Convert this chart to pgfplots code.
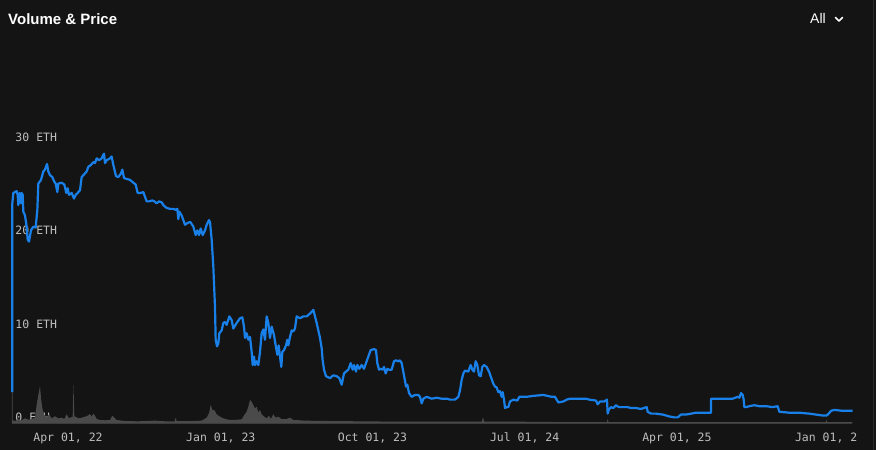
\documentclass[border=0pt]{standalone}
\usepackage{pgfplots}
\pgfplotsset{compat=1.18}
\usepackage{fontspec}
\setmainfont{Liberation Sans}
\newfontfamily\monofont{DejaVu Sans Mono}
\definecolor{bg}{HTML}{141414}
\definecolor{priceblue}{HTML}{1880E8}
\definecolor{volgray}{HTML}{4A4A4A}
\definecolor{basegray}{HTML}{3A3A3A}
\definecolor{ticktext}{HTML}{BEBEBE}
\definecolor{edge}{HTML}{2A2A2A}
\pgfplotsset{
  commonaxis/.style={
    at={(12pt,27pt)}, anchor=south west,
    scale only axis, width=841pt, height=363pt,
    xmin=-10.8, xmax=1503, ymin=0, ymax=38.82,
    clip=false,
  }
}
\begin{document}
\begin{tikzpicture}
\fill[bg] (0pt,0pt) rectangle (876pt,450pt);
\useasboundingbox (0pt,0pt) rectangle (876pt,450pt);
\draw[edge, line width=1pt] (873.5pt,0pt) -- (873.5pt,450pt);
\node[anchor=base west, text=white, font=\bfseries\fontsize{15}{18}\selectfont, inner sep=0] at (8pt,425pt) {Volume \& Price};
\node[anchor=base west, text=white, font=\fontsize{14}{16}\selectfont, inner sep=0] at (810pt,426pt) {All};
\draw[white, line width=1.5pt, line cap=round, line join=round] (835.5pt,432.5pt) -- (839pt,429pt) -- (842.5pt,432.5pt);

% axis 1: tick labels and baseline
\begin{axis}[commonaxis,
  axis line style={draw=none}, major tick style={draw=none},
  xtick={90,365,638,912,1186,1461},
  xticklabels={{Apr 01, 22},{Jan 01, 23},{Oct 01, 23},{Jul 01, 24},{Apr 01, 25},{Jan 01, 2\phantom{6}}},
  ytick={0,10,20,30},
  yticklabels={0 ETH,10 ETH,20 ETH,30 ETH},
  ticklabel style={font=\monofont\fontsize{11.5}{13}\selectfont, text=ticktext},
  yticklabel style={anchor=base west, inner sep=0pt, xshift=3.3pt, yshift=1.3pt},
  xticklabel style={anchor=base, inner sep=0pt, yshift=-18.5pt},
  /pgf/number format/assume math mode=true,
]
\addplot[basegray, line width=2pt] coordinates {(-10.8,0) (1502,0)};
\end{axis}

% axis 2: volume and price
\begin{axis}[commonaxis, hide axis]
\addplot[draw=none, fill=volgray] coordinates {
(-10.8,0) (-10.8,7.8) (-10.0,7.8) (-9.6,0.3) (-5.4,0.2) (0.6,0.4) (6.6,0.3) (12.6,0.5) (18.6,0.35) (24.6,0.43) (30.6,0.57) (33.6,1.93) (36.6,3.0) (39.6,3.96) (41.4,2.64) (43.8,1.57) (47.4,0.86) (51.6,0.67) (55.8,0.93) (60.6,0.5) (66.6,0.72) (72.6,0.5) (78.6,0.57) (83.4,0.43) (87.6,0.93) (91.8,0.5) (96.6,0.64) (98.4,0.64) (99.9,4.06) (101.4,0.7) (103.8,0.67) (108.6,0.5) (114.6,0.57) (120.6,0.67) (125.4,0.78) (129.6,0.96) (132.6,0.67) (135.6,1.0) (138.6,0.78) (141.6,0.43) (147.6,0.32) (156.6,0.29) (165.6,0.32) (169.8,0.78) (173.4,0.57) (177.6,0.32) (192.6,0.21) (216.6,0.18) (246.6,0.25) (264.6,0.18) (282,0.18) (283.8,0.57) (285.6,0.2) (312.6,0.21) (330.6,0.25) (339.6,0.57) (343.8,1.04) (346.8,1.93) (349.8,1.39) (353.4,1.39) (357.6,0.93) (363.6,0.67) (369.6,0.5) (378.6,0.35) (390.6,0.32) (402.6,0.4) (407.4,0.86) (411.6,1.21) (414.6,1.74) (417.6,2.46) (420.6,2.28) (423.6,1.93) (426.6,1.57) (429.6,1.74) (432.6,1.14) (435.6,1.39) (438.6,0.93) (443.4,0.67) (447.6,0.5) (451.8,0.78) (455.4,0.43) (459.6,0.93) (463.8,0.57) (468.6,0.67) (474.6,0.4) (483.6,0.43) (489.6,0.57) (495.6,0.32) (507.6,0.29) (516.6,0.25) (561.6,0.21) (651.6,0.16) (723.6,0.16) (835,0.16) (837,0.64) (839,0.16) (867.6,0.16) (975,0.1) (1060,0.1) (1061.5,0.43) (1063,0.1) (1300,0.1) (1454,0.1) (1455.6,0.32) (1457,0.1) (1502,0.1) (1502,0)
};
\addplot[priceblue, line width=2.2pt, line join=round] coordinates {
(-10.5,3.3) (-10.2,23.5) (-8.4,24.6) (-2.4,24.8) (-0.6,24.4) (0.6,23.3) (3.0,24.6) (5.4,23.5) (6.6,24.6) (8.4,24.4) (9.6,22.6) (12.6,22.2) (15.6,21.0) (17.4,19.6) (19.8,19.4) (23.4,20.6) (27.6,21.0) (31.8,20.9) (34.8,22.8) (36.6,25.6) (41.4,26.0) (45.6,26.9) (48.6,27.1) (52.2,27.7) (54.6,26.9) (57.6,26.5) (61.8,26.3) (65.4,25.8) (67.8,25.6) (70.8,24.7) (72.6,25.6) (78.6,25.7) (83.4,25.5) (87.0,24.6) (89.4,25.1) (91.8,24.4) (96.6,24.6) (100.8,24.0) (103.8,24.4) (107.4,24.6) (111.6,24.9) (114.6,26.3) (120.6,26.7) (123.6,26.9) (126.6,27.4) (131.4,27.6) (135.6,27.9) (138.6,27.8) (141.6,28.3) (145.8,28.1) (150.6,28.3) (154.8,28.8) (156.6,27.8) (159.6,28.1) (165.6,28.3) (168.6,28.5) (171.6,27.6) (176.4,26.4) (180.6,26.3) (185.4,26.7) (187.8,27.1) (190.8,26.2) (195.6,26.1) (201.6,26.0) (207.6,25.7) (211.8,25.5) (215.4,24.6) (220.8,24.6) (225.6,24.7) (228.6,24.2) (231.6,23.7) (235.8,23.7) (241.8,23.8) (245.4,23.7) (249.6,23.5) (253.8,23.7) (258.6,23.6) (261.6,23.3) (267.6,23.0) (273.6,22.9) (279.6,22.9) (283.8,22.8) (286.8,22.9) (288.6,21.8) (290.4,22.6) (294.6,22.2) (300.6,21.2) (305.4,21.4) (310.2,21.5) (315.6,21.0) (319.8,20.1) (322.8,20.6) (325.8,20.1) (328.8,20.8) (332.4,20.1) (336.6,20.6) (339.6,21.2) (343.8,21.7) (345.6,21.5) (348.6,19.6) (351.6,16.7) (354.6,12.4) (355.8,8.9) (358.2,8.2) (360.6,8.5) (362.4,9.6) (366.6,9.9) (369.6,10.7) (372.6,10.8) (375.6,10.5) (380.4,11.4) (384.6,11.0) (387.6,10.1) (393.6,10.7) (399.6,11.2) (403.8,11.3) (406.8,10.3) (408.6,9.1) (411.6,9.6) (414.6,8.9) (417.6,9.2) (420.6,7.6) (422.4,6.2) (424.8,7.1) (426.6,6.2) (429.6,6.6) (432.6,6.2) (435.6,7.6) (438.6,9.6) (441.6,10.0) (444.6,8.9) (447.6,11.4) (450.6,10.7) (453.6,9.1) (456.6,10.3) (460.8,9.4) (463.8,8.3) (466.8,7.3) (469.2,8.3) (471.6,7.1) (474.0,6.0) (475.8,7.6) (478.8,7.8) (482.4,8.3) (484.8,8.9) (486.6,8.3) (489.6,9.2) (492.6,9.9) (495.6,9.8) (498.6,10.1) (501.6,11.4) (507.6,11.2) (513.6,11.4) (519.6,11.4) (525.6,11.7) (531.6,12.1) (534.6,11.4) (537.6,10.7) (540.6,9.9) (543.6,9.1) (546.6,8.0) (548.4,6.7) (550.8,5.7) (554.4,5.0) (561.6,4.8) (567.6,5.1) (573.6,5.0) (578.4,4.8) (582.6,4.1) (586.8,5.3) (590.4,5.5) (594.6,5.7) (598.8,6.4) (602.4,5.7) (604.8,6.2) (608.4,5.5) (610.8,6.2) (614.4,5.8) (618.6,6.2) (622.8,5.8) (627.6,6.6) (631.8,7.3) (634.8,7.8) (640.8,7.9) (644.4,7.8) (646.8,6.4) (649.8,5.7) (652.8,5.8) (656.4,5.7) (658.8,6.0) (661.8,5.3) (664.8,5.8) (667.8,5.7) (672.6,5.7) (676.8,6.6) (680.4,6.7) (684.6,6.6) (687.6,6.7) (690.6,6.4) (694.8,5.1) (698.4,3.9) (700.8,4.1) (703.8,3.2) (708.6,2.8) (714.6,3.0) (720.6,3.0) (723.6,2.8) (726.6,2.1) (729.6,2.6) (735.6,2.8) (744.6,2.6) (753.6,2.7) (762.6,2.6) (771.6,2.6) (777.6,2.5) (786.6,2.5) (792.6,2.8) (795.6,3.5) (798.6,4.6) (801.6,5.3) (804.6,5.6) (810.6,5.5) (814.8,6.2) (817.8,5.7) (820.8,5.5) (823.8,6.6) (826.8,6.2) (829.8,5.1) (832.8,5.0) (835.8,6.0) (838.8,6.2) (843.6,6.0) (847.8,5.5) (850.8,5.0) (855.6,4.2) (858.6,3.9) (861.6,3.8) (864.6,3.3) (867.6,3.4) (870.6,2.8) (872.4,3.3) (874.8,2.5) (876.6,1.6) (879.6,1.7) (882.6,1.7) (885.6,2.3) (891.6,2.5) (898.8,2.4) (902.4,2.8) (909.6,2.8) (915.6,2.8) (927.6,2.9) (945.6,3.0) (960.6,2.8) (966.6,2.8) (972.6,2.2) (981.6,2.3) (987.6,2.5) (993.6,2.6) (1005.6,2.6) (1022.4,2.6) (1028.4,2.5) (1040.4,2.4) (1043.4,2.0) (1047.6,2.3) (1055.4,2.3) (1060.2,2.5) (1061.4,1.0) (1063.2,1.4) (1067.4,1.7) (1071.6,1.6) (1076.4,1.9) (1081.2,1.7) (1085.4,1.7) (1091.4,1.7) (1097.4,1.7) (1103.4,1.6) (1112.4,1.6) (1121.4,1.5) (1131.6,1.7) (1133.4,1.2) (1139.4,1.0) (1148.4,1.0) (1160.4,0.9) (1172.4,0.7) (1181.4,0.6) (1187.4,0.6) (1193.4,0.9) (1202.4,0.9) (1211.4,1.0) (1220.4,1.1) (1247.4,1.1) (1247.6,2.6) (1262.4,2.6) (1286.4,2.6) (1295.4,2.8) (1298.4,2.7) (1301.4,3.2) (1304.4,3.0) (1306.2,2.5) (1307.4,1.7) (1310.4,1.7) (1316.4,1.8) (1325.4,1.9) (1334.4,1.8) (1346.4,1.8) (1358.4,1.7) (1367.4,1.8) (1370.4,1.2) (1388.4,1.1) (1406.4,1.1) (1424.4,1.0) (1436.4,0.9) (1448.4,0.8) (1455.6,0.8) (1459.2,1.0) (1463.4,1.3) (1469.4,1.4) (1484.4,1.3) (1502.4,1.3)
};
\end{axis}
\end{tikzpicture}
\end{document}
